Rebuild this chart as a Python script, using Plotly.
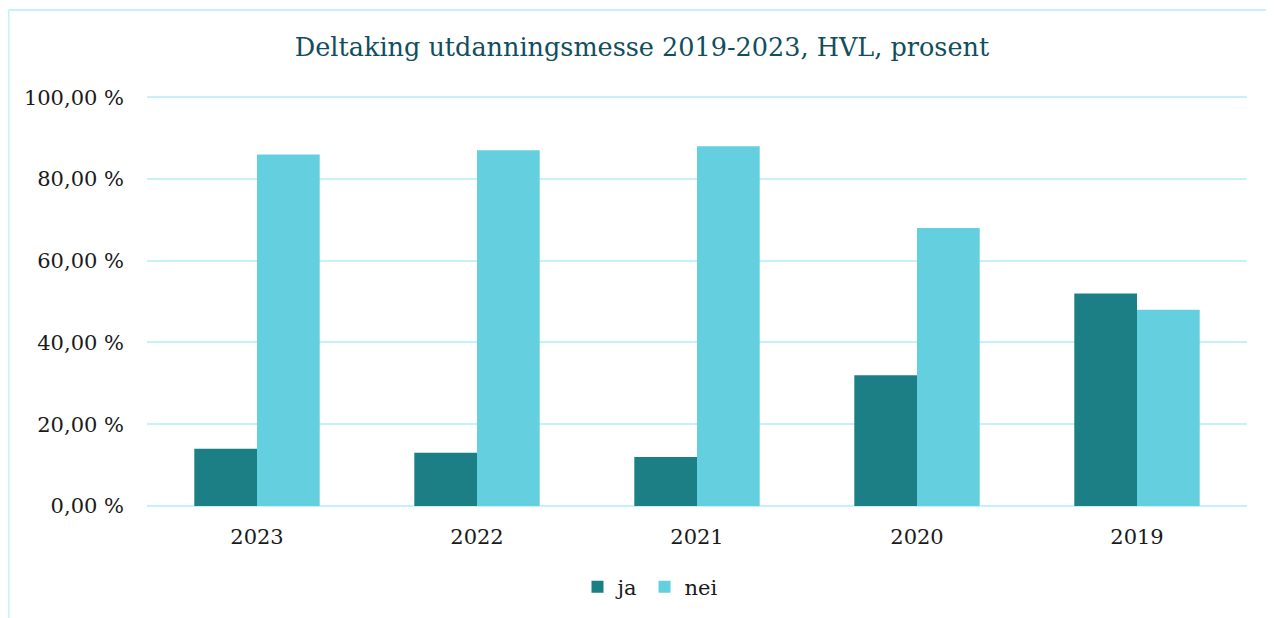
import plotly.graph_objects as go

years = ["2023", "2022", "2021", "2020", "2019"]
ja = [14, 13, 12, 32, 52]
nei = [86, 87, 88, 68, 48]
ytick_vals = [0, 20, 40, 60, 80, 100]
ytick_text = ["0,00 %", "20,00 %", "40,00 %", "60,00 %", "80,00 %", "100,00 %"]

FONT = "DejaVu Serif"
OFF = 8  # page body margin

W, H = 1274, 618
L = 147 - OFF
T = 96 - OFF
R = W - (1247 - OFF)
B = H - (506 - OFF)
pw, ph = W - L - R, H - T - B
bx = (0.5 - L) / pw
by = (H - B - (10 - OFF)) / ph

fig = go.Figure()
fig.add_trace(go.Bar(name="ja", x=years, y=ja, marker=dict(color="#1b7f85", line=dict(width=0))))
fig.add_trace(go.Bar(name="nei", x=years, y=nei, marker=dict(color="#64cfdf", line=dict(width=0))))

fig.update_layout(
    width=W, height=H,
    margin=dict(l=L, r=R, t=T, b=B),
    paper_bgcolor="white", plot_bgcolor="white",
    barmode="group", bargap=0.43, bargroupgap=0,
    title=dict(text="Deltaking utdanningsmesse 2019-2023, HVL, prosent",
               x=(642 - OFF - L) / pw, xref="paper", xanchor="center", y=1 - (47 - OFF) / H, yanchor="middle",
               font=dict(family=FONT, size=25.5, color="#114e5e")),
    font=dict(family=FONT, size=20, color="#1a1a1a"),
    legend=dict(orientation="h", x=(650 - OFF - L) / pw, xanchor="center", y=(H - B - (587 - OFF)) / ph,
                yanchor="middle", tracegroupgap=0,
                font=dict(family=FONT, size=21, color="#1a1a1a"), itemwidth=30, traceorder="normal"),
    xaxis=dict(showgrid=False, showline=False, ticks="", ticklabelstandoff=16,
               tickfont=dict(family=FONT, size=21, color="#1a1a1a")),
    yaxis=dict(range=[0, 100.3], tickvals=ytick_vals, ticktext=ytick_text,
               showgrid=True, gridcolor="#c6f0fa", gridwidth=2, zeroline=True,
               zerolinecolor="#c6f0fa", zerolinewidth=2, showline=False, ticks="",
               ticklabelstandoff=22, tickfont=dict(family=FONT, size=21, color="#1a1a1a")),
    shapes=[
        dict(type="line", xref="paper", yref="paper", x0=bx, x1=bx, y0=-0.5, y1=by,
             line=dict(color="#c6f0fa", width=2)),
        dict(type="line", xref="paper", yref="paper", x0=bx, x1=1.2, y0=by, y1=by,
             line=dict(color="#c6f0fa", width=2)),
    ],
)

fig.write_html("out.html")
